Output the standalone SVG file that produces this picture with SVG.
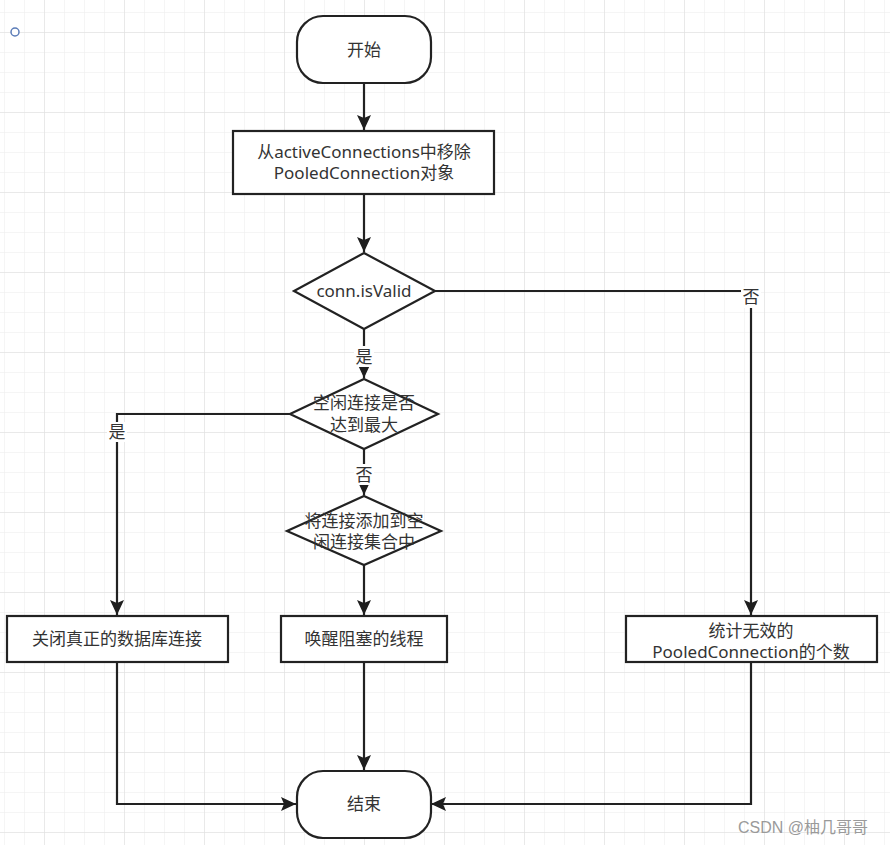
<svg xmlns="http://www.w3.org/2000/svg" width="890" height="845" viewBox="0 0 890 845">
  <defs>
    <pattern id="minor" patternUnits="userSpaceOnUse" x="4" y="12" width="20" height="20">
      <path d="M0 0V20M0 0H20" fill="none" stroke="#ebebeb" stroke-width="1"/>
    </pattern>
    <pattern id="major" patternUnits="userSpaceOnUse" x="44" y="32" width="80" height="80">
      <path d="M0 0V80M0 0H80" fill="none" stroke="#dedede" stroke-width="1"/>
    </pattern>
    <marker id="arrow" markerUnits="userSpaceOnUse" markerWidth="16" markerHeight="14" refX="15" refY="7" orient="auto">
      <path d="M0 0L15 7L0 14L3 7Z" fill="#1e1e1e"/>
    </marker>
  </defs>
  <style>
    .shape { fill: #ffffff; stroke: #222222; stroke-width: 2.2; }
    .edge { fill: none; stroke: #222222; stroke-width: 2.2; }
    .txt { font-family: "Noto Sans", "Noto Sans CJK SC", sans-serif; font-size: 17px; fill: #333333; text-anchor: middle; }
    .lbl { fill: #ffffff; stroke: none; }
    .wm { font-family: "Liberation Sans", "Noto Sans CJK SC", sans-serif; font-size: 16px; fill: #9a9a9a; }
  </style>

  <rect x="0" y="0" width="890" height="845" fill="#ffffff"/>
  <rect x="0" y="0" width="890" height="845" fill="url(#minor)"/>
  <rect x="0" y="0" width="890" height="845" fill="url(#major)"/>

  <circle cx="15" cy="32" r="4" fill="#ffffff" stroke="#5b7cb8" stroke-width="1.5"/>

  <g id="connectors">
    <path class="edge" d="M364 83V130" marker-end="url(#arrow)"/>
    <path class="edge" d="M364 194V252" marker-end="url(#arrow)"/>
    <path class="edge" d="M435 291H751V615" marker-end="url(#arrow)"/>
    <path class="edge" d="M364 329V378" marker-end="url(#arrow)"/>
    <path class="edge" d="M290 414H117V615" marker-end="url(#arrow)"/>
    <path class="edge" d="M364 449V495" marker-end="url(#arrow)"/>
    <path class="edge" d="M364 565V615" marker-end="url(#arrow)"/>
    <path class="edge" d="M117 662V804H296" marker-end="url(#arrow)"/>
    <path class="edge" d="M364 662V770" marker-end="url(#arrow)"/>
    <path class="edge" d="M751 662V804H431" marker-end="url(#arrow)"/>
    <g id="edge-labels">
      <rect class="lbl" x="741" y="287" width="20" height="21"/>
      <text class="txt" x="751" y="303">否</text>
      <rect class="lbl" x="354" y="346" width="20" height="21"/>
      <text class="txt" x="364" y="363">是</text>
      <rect class="lbl" x="107" y="422" width="20" height="20"/>
      <text class="txt" x="117" y="438">是</text>
      <rect class="lbl" x="354" y="464" width="20" height="21"/>
      <text class="txt" x="364" y="481">否</text>
    </g>
  </g>

  <g id="start">
    <rect class="shape" x="297" y="16" width="134" height="67" rx="26" ry="26"/>
    <text class="txt" x="364" y="56">开始</text>
  </g>

  <g id="remove-active">
    <rect class="shape" x="233" y="131" width="261" height="63"/>
    <text class="txt" x="364" y="158">从activeConnections中移除</text>
    <text class="txt" x="364" y="179">PooledConnection对象</text>
  </g>

  <g id="is-valid">
    <polygon class="shape" points="364,253 435,291 364,329 294,291"/>
    <text class="txt" x="364" y="297">conn.isValid</text>
  </g>

  <g id="idle-max">
    <polygon class="shape" points="364,379 438,414 364,449 290,414"/>
    <text class="txt" x="364" y="409">空闲连接是否</text>
    <text class="txt" x="364" y="431">达到最大</text>
  </g>

  <g id="add-idle">
    <polygon class="shape" points="364,496 441,531 364,565 287,531"/>
    <text class="txt" x="364" y="527">将连接添加到空</text>
    <text class="txt" x="364" y="548">闲连接集合中</text>
  </g>

  <g id="close-real">
    <rect class="shape" x="7" y="616" width="221" height="46"/>
    <text class="txt" x="117" y="645">关闭真正的数据库连接</text>
  </g>

  <g id="wake-threads">
    <rect class="shape" x="281" y="616" width="166" height="46"/>
    <text class="txt" x="364" y="645">唤醒阻塞的线程</text>
  </g>

  <g id="count-invalid">
    <rect class="shape" x="626" y="616" width="251" height="46"/>
    <text class="txt" x="751" y="637">统计无效的</text>
    <text class="txt" x="751" y="658">PooledConnection的个数</text>
  </g>

  <g id="end">
    <rect class="shape" x="297" y="771" width="134" height="67" rx="26" ry="26"/>
    <text class="txt" x="364" y="810">结束</text>
  </g>

  <text class="wm" x="738" y="833">CSDN @柚几哥哥</text>
</svg>
